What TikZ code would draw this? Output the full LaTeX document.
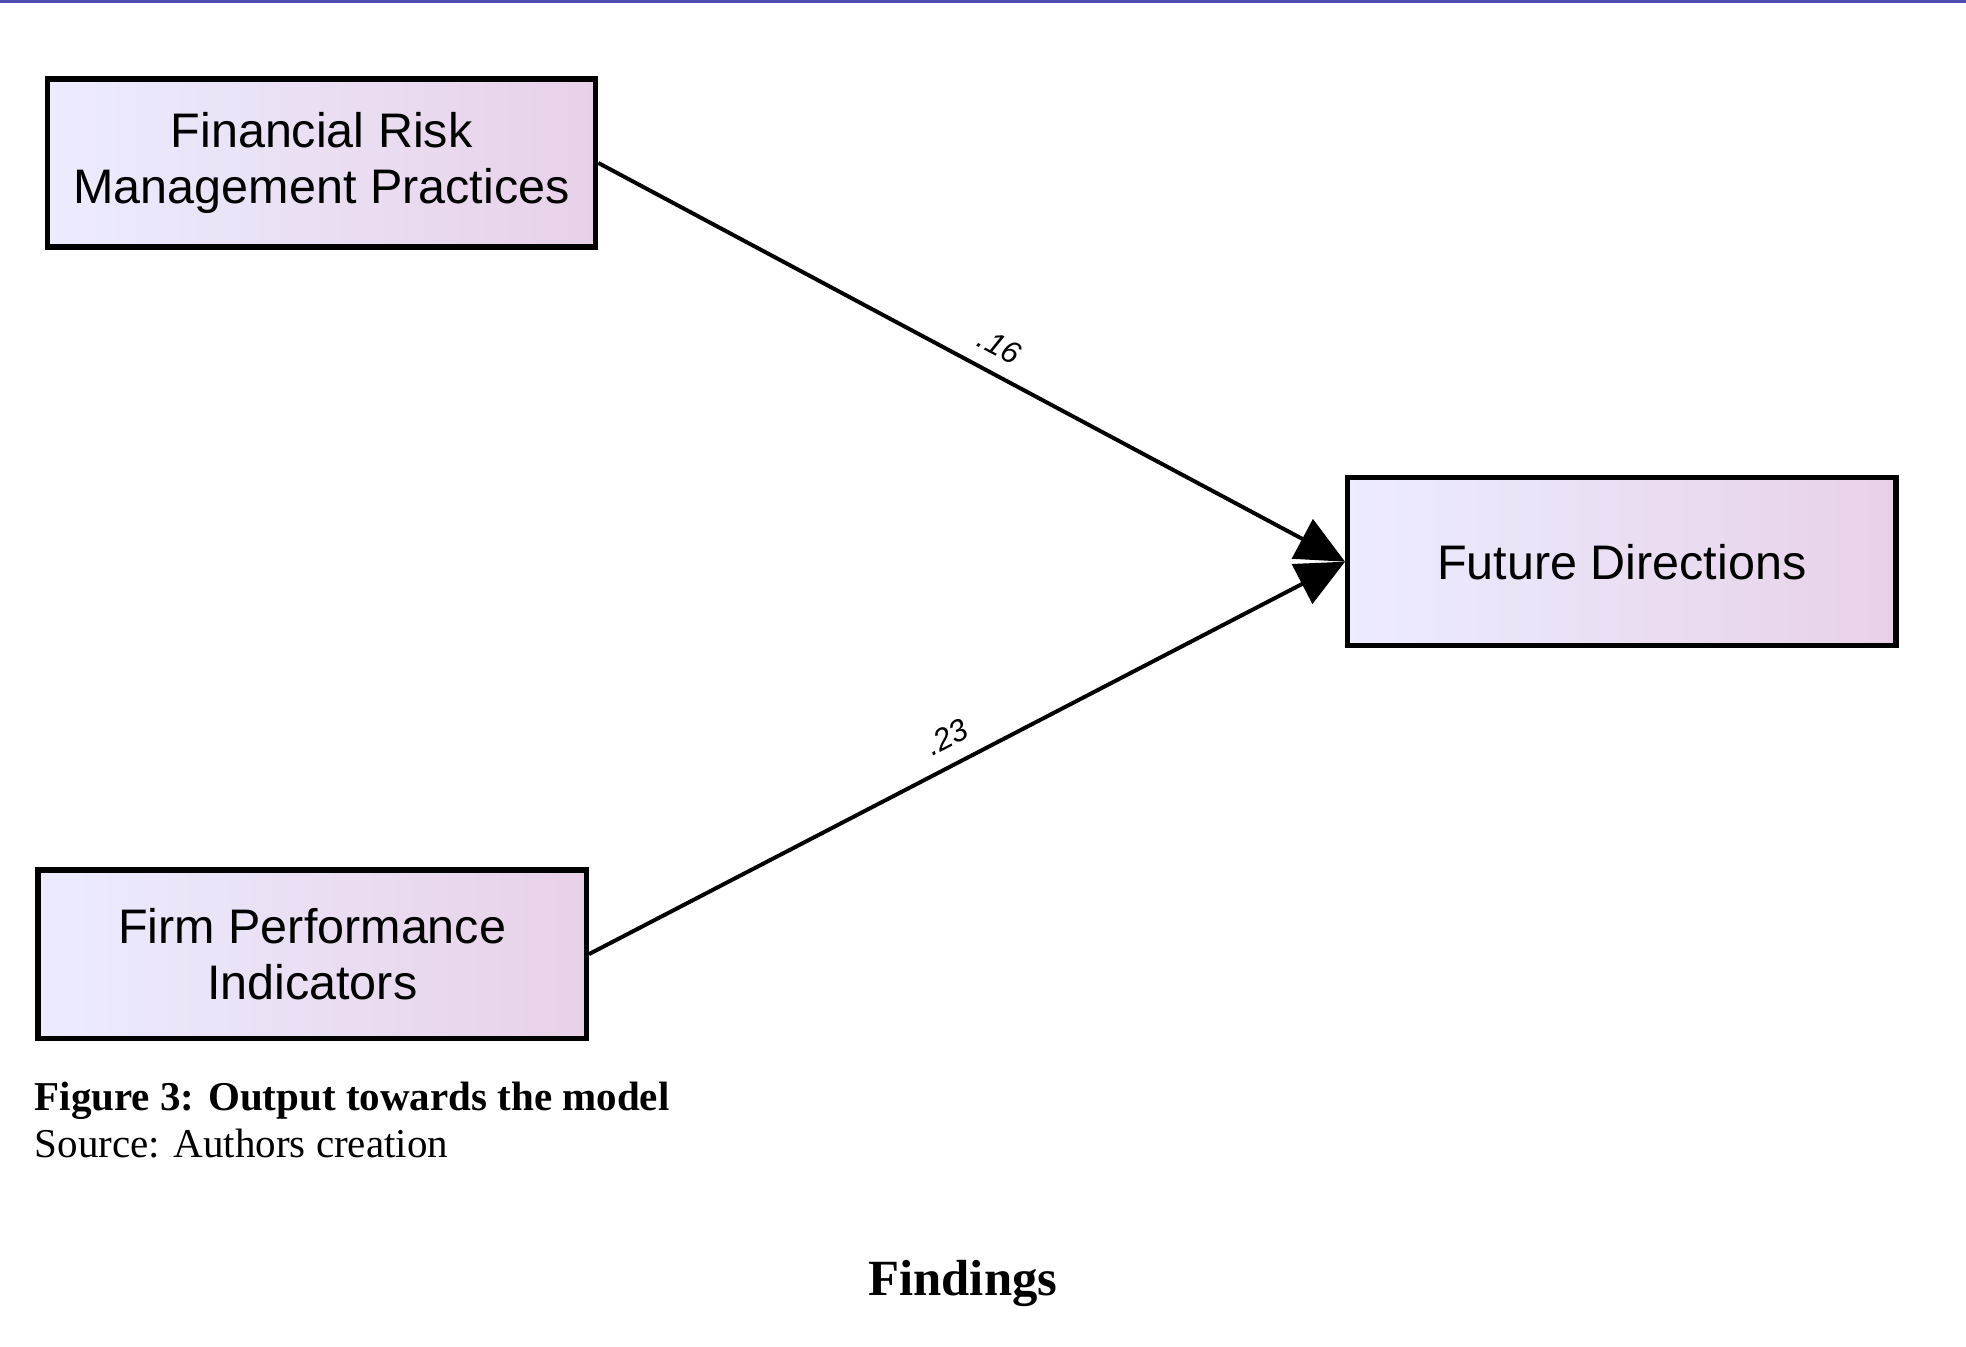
\documentclass[tikz,border=0pt]{standalone}
\usepackage{fontspec}
\setmainfont{Liberation Serif}
\newfontfamily\boxfont{Liberation Sans}
\usetikzlibrary{arrows.meta}
\begin{document}
\begin{tikzpicture}[x=0.01cm,y=-0.01cm,
  var/.style={draw,line width=1.2pt,left color=gray!12!blue!8,right color=violet!18,
    minimum width=4.37cm,minimum height=1.34cm,align=center,font=\boxfont\fontsize{11}{12.5}\selectfont},
  path/.style={line width=0.9pt,-{Triangle[length=11pt,width=10pt]}},
  coef/.style={font=\boxfont\itshape\fontsize{7}{8}\selectfont,above,sloped}]
  \useasboundingbox (0,0) rectangle (1568,1074);
  \draw[blue!40!gray,line width=0.6pt] (0,1) -- (1568,1);
  % Variablen
  \node[var] (risk) at (256.5,130) {Financial Risk\\Management Practices};
  \node[var] (perf) at (249,761) {Firm Performance\\Indicators};
  \node[var] (future) at (1293.5,448) {Future Directions};
  % Pfade
  \draw[path] (risk.east) -- node[coef,pos=0.52] {.16} (future.west);
  \draw[path] (perf.east) -- node[coef,pos=0.49] {.23} (future.west);
  % Beschriftung
  \node[anchor=north west,inner sep=0,font=\bfseries\fontsize{9.3}{11}\selectfont] (cap) at (27,862) {Figure 3: Output towards the model};
  \node[anchor=north west,inner sep=0,font=\fontsize{9.3}{11}\selectfont] (src) at (27,900) {Source: Authors creation};
  \node[font=\bfseries\fontsize{11.5}{13}\selectfont] (find) at (768,1024) {Findings};
\end{tikzpicture}
\end{document}
